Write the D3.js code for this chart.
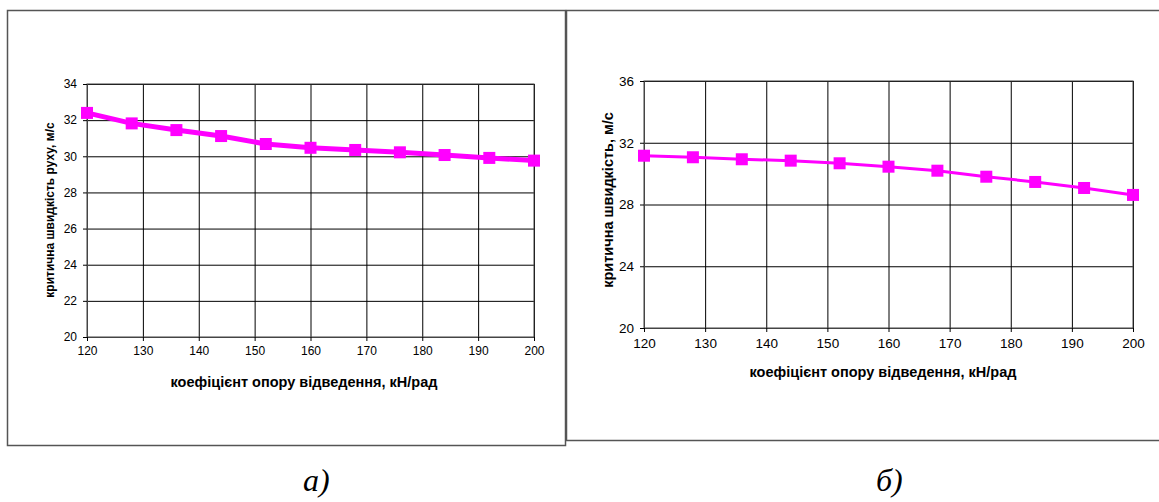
<!DOCTYPE html>
<html>
<head>
<meta charset="utf-8">
<script src="https://cdn.jsdelivr.net/npm/d3@7"></script>
<style>
  body { margin: 0; background: #fff; }
  svg { display: block; }
  .tick text { font-family: Arial, "Liberation Sans", sans-serif; fill: #000; }
  .label { font-family: Arial, "Liberation Sans", sans-serif; font-weight: bold; fill: #000; }
  .caption { font-family: "Times New Roman", "Liberation Serif", serif; font-style: italic; font-size: 32px; fill: #000; }
</style>
</head>
<body>
<div id="chart"></div>
<script>
// data
var stiffness = [120, 128, 136, 144, 152, 160, 168, 176, 184, 192, 200];
var speedA = [32.4, 31.82, 31.45, 31.12, 30.68, 30.47, 30.35, 30.22, 30.07, 29.91, 29.76];
var speedB = [31.16, 31.06, 30.93, 30.84, 30.67, 30.45, 30.19, 29.8, 29.46, 29.07, 28.62];
var xTicks = [120, 130, 140, 150, 160, 170, 180, 190, 200];
var yTicksA = [20, 22, 24, 26, 28, 30, 32, 34];
var yTicksB = [20, 24, 28, 32, 36];
var xLabel = "коефіцієнт опору відведення, кН/рад";
var yLabelA = "критична швидкість руху, м/с";
var yLabelB = "критична швидкість, м/с";

var svg = d3.select("#chart")
    .append("svg")
    .attr("width", 1159)
    .attr("height", 502);

// outer frames
svg.append("rect")
    .attr("x", 7.5).attr("y", 10.5)
    .attr("width", 558).attr("height", 435)
    .attr("fill", "none").attr("stroke", "#555").attr("stroke-width", 1.5);
svg.append("rect")
    .attr("x", 566.5).attr("y", 10.5)
    .attr("width", 600).attr("height", 430)
    .attr("fill", "none").attr("stroke", "#555").attr("stroke-width", 1.5);

function drawPanel(opt) {
    var xScale = d3.scaleLinear().domain([120, 200]).range([opt.left, opt.right]);
    var yScale = d3.scaleLinear().domain(opt.yDomain).range([opt.bottom, opt.top]);
    var w = opt.right - opt.left, h = opt.bottom - opt.top;

    var g = svg.append("g");

    // grid
    g.append("g")
        .attr("transform", `translate(${opt.left},0)`)
        .call(d3.axisLeft(yScale).tickValues(opt.yTicks).tickSize(-w).tickFormat(""))
        .call(s => s.select(".domain").remove())
        .selectAll("line").attr("stroke", "#000");
    g.append("g")
        .attr("transform", `translate(0,${opt.bottom})`)
        .call(d3.axisBottom(xScale).tickValues(xTicks).tickSize(-h).tickFormat(""))
        .call(s => s.select(".domain").remove())
        .selectAll("line").attr("stroke", "#000");

    g.append("rect")
        .attr("x", opt.left).attr("y", opt.top)
        .attr("width", w).attr("height", h)
        .attr("fill", "none").attr("stroke", "#444").attr("stroke-width", 1);

    // axes
    var yAxis = g.append("g")
        .attr("transform", `translate(${opt.left},0)`)
        .call(d3.axisLeft(yScale).tickValues(opt.yTicks).tickSize(4).tickSizeOuter(0).tickPadding(6));
    yAxis.select(".domain").attr("stroke", "#444");
    yAxis.selectAll("text").style("font-size", opt.tickFont + "px");
    var xAxis = g.append("g")
        .attr("transform", `translate(0,${opt.bottom})`)
        .call(d3.axisBottom(xScale).tickValues(xTicks).tickSize(4).tickSizeOuter(0).tickPadding(opt.xPad));
    xAxis.select(".domain").attr("stroke", "#444");
    xAxis.selectAll("text").style("font-size", opt.tickFont + "px");

    // series
    var line = d3.line()
        .x((d, i) => xScale(stiffness[i]))
        .y(d => yScale(d));
    g.append("path")
        .datum(opt.values)
        .attr("d", line)
        .attr("fill", "none")
        .attr("stroke", "#ff00ff")
        .attr("stroke-width", opt.lineWidth)
        .attr("stroke-linejoin", "round");
    g.append("g")
        .selectAll("rect")
        .data(opt.values)
        .enter()
        .append("rect")
            .attr("x", (d, i) => xScale(stiffness[i]) - 6)
            .attr("y", d => yScale(d) - 6)
            .attr("width", 12)
            .attr("height", 12)
            .attr("fill", "#ff00ff");

    // labels
    g.append("text")
        .attr("class", "label")
        .attr("font-size", 14.5)
        .attr("text-anchor", "middle")
        .attr("x", opt.xLabelX)
        .attr("y", opt.xLabelY)
        .text(xLabel);
    g.append("text")
        .attr("class", "label")
        .attr("font-size", opt.yLabelFont)
        .attr("text-anchor", "middle")
        .attr("transform", `translate(${opt.yLabelX},${opt.yLabelCY}) rotate(-90)`)
        .text(opt.yLabel);
}

drawPanel({
    left: 87, right: 534, top: 84, bottom: 337,
    yDomain: [20, 34], yTicks: yTicksA, values: speedA, lineWidth: 5,
    tickFont: 12, xPad: 5,
    xLabelX: 304, xLabelY: 387,
    yLabelX: 54, yLabelCY: 210, yLabelFont: 12, yLabel: yLabelA
});

drawPanel({
    left: 644, right: 1133, top: 81, bottom: 328,
    yDomain: [20, 36], yTicks: yTicksB, values: speedB, lineWidth: 3,
    tickFont: 13.5, xPad: 6,
    xLabelX: 883, xLabelY: 377,
    yLabelX: 613, yLabelCY: 200, yLabelFont: 14.5, yLabel: yLabelB
});

// captions
svg.append("text").attr("class", "caption")
    .attr("x", 303).attr("y", 491).text("а)");
svg.append("text").attr("class", "caption")
    .attr("x", 876).attr("y", 491).text("б)");
</script>
</body>
</html>
